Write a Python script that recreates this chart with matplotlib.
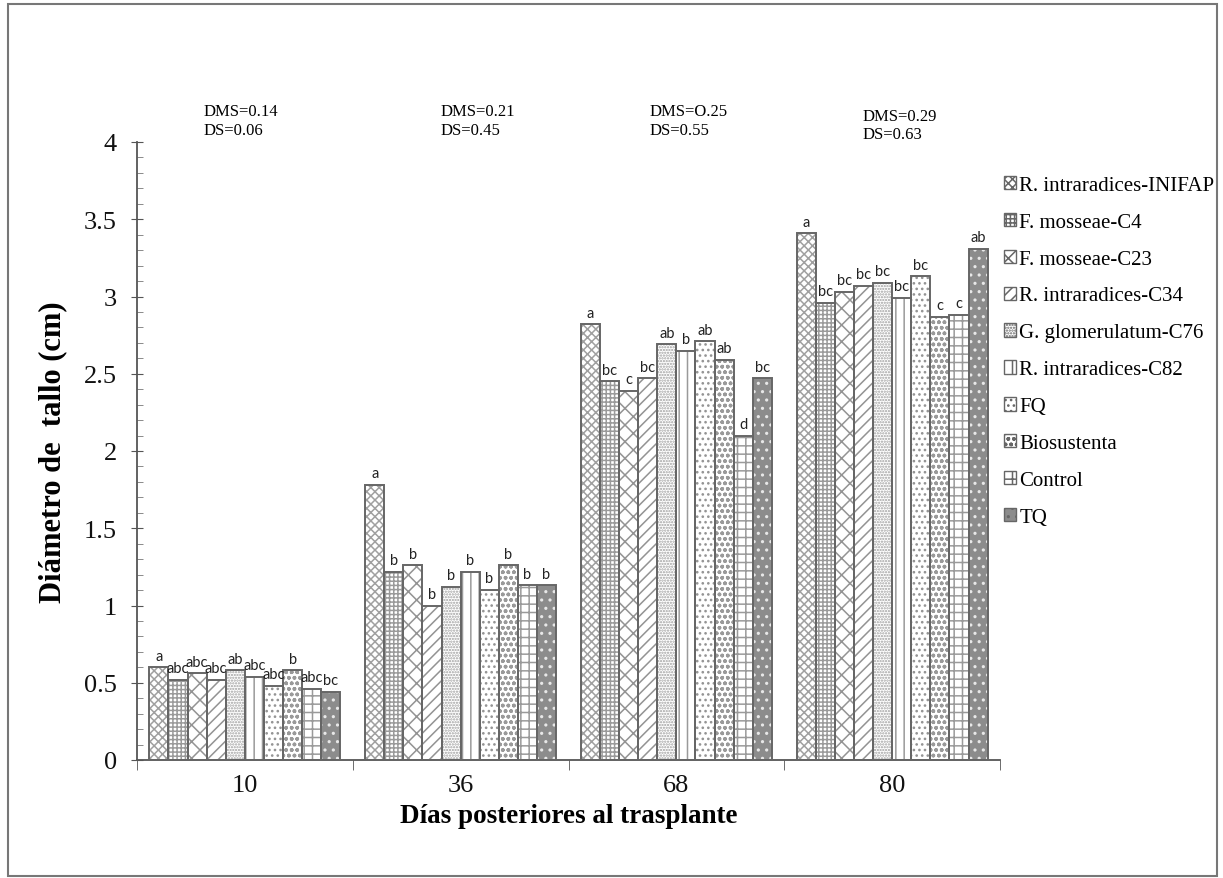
import matplotlib
matplotlib.use("Agg")
import matplotlib.pyplot as plt
import numpy as np
from matplotlib.patches import Patch, Rectangle
from matplotlib.ticker import MultipleLocator

days = ["10", "36", "68", "80"]
treatments = ["R. intraradices-INIFAP", "F. mosseae-C4", "F. mosseae-C23",
              "R. intraradices-C34", "G. glomerulatum-C76", "R. intraradices-C82",
              "FQ", "Biosustenta", "Control", "TQ"]

# values per treatment (rows) x day (columns)
inifap = [0.60, 1.78, 2.82, 3.41]
c4 = [0.52, 1.22, 2.45, 2.96]
c23 = [0.56, 1.26, 2.39, 3.03]
c34 = [0.52, 1.00, 2.47, 3.07]
c76 = [0.58, 1.12, 2.69, 3.09]
c82 = [0.54, 1.22, 2.65, 2.99]
fq = [0.48, 1.10, 2.71, 3.13]
bios = [0.58, 1.26, 2.59, 2.87]
control = [0.46, 1.13, 2.10, 2.88]
tq = [0.44, 1.13, 2.47, 3.31]
series = [inifap, c4, c23, c34, c76, c82, fq, bios, control, tq]

letters_10 = ["a", "abc", "abc", "abc", "ab", "abc", "abc", "b", "abc", "bc"]
letters_36 = ["a", "b", "b", "b", "b", "b", "b", "b", "b", "b"]
letters_68 = ["a", "bc", "c", "bc", "ab", "b", "ab", "ab", "d", "bc"]
letters_80 = ["a", "bc", "bc", "bc", "bc", "bc", "bc", "c", "c", "ab"]
letters = [letters_10, letters_36, letters_68, letters_80]

dms = ["DMS=0.14", "DMS=0.21", "DMS=O.25", "DMS=0.29"]
ds = ["DS=0.06", "DS=0.45", "DS=0.55", "DS=0.63"]

hatches = ["xxxx", "++++", "xx", "///", "......", "||", "...", "ooo", "++", ".."]
faces = ["white"] * 9 + ["#8c8c8c"]
hatch_cols = ["#a0a0a0", "#9a9a9a", "#939393", "#939393", "#a0a0a0",
              "#9a9a9a", "#939393", "#9a9a9a", "#9a9a9a", "#e8e8e8"]
outline = "#666666"

plt.rcParams["hatch.linewidth"] = 1.1
serif = ["Liberation Serif", "DejaVu Serif"]

fig = plt.figure(figsize=(12.23, 8.79), dpi=100)
ax = fig.add_axes([137 / 1223, 1 - 761 / 879, (1000 - 137) / 1223, (761 - 143) / 879])

x = np.arange(len(days))
n = len(series)
w = 0.0885
offsets = (np.arange(n) - (n - 1) / 2) * w

for i, vals in enumerate(series):
    ax.bar(x + offsets[i], vals, w, color=faces[i], edgecolor=hatch_cols[i],
           hatch=hatches[i], linewidth=0, zorder=2)
    ax.bar(x + offsets[i], vals, w, fill=False, edgecolor=outline,
           linewidth=1.4, zorder=3)
    for j, v in enumerate(vals):
        ax.text(x[j] + offsets[i], v + 0.03, letters[j][i], ha="center",
                va="bottom", fontsize=10.5, family="Lato", color="#222222", zorder=4)

ax.set_xlim(-0.5, 3.5)
ax.set_ylim(0, 4)
ax.yaxis.set_major_locator(MultipleLocator(0.5))
ax.yaxis.set_minor_locator(MultipleLocator(0.1))
ax.set_yticks(np.arange(0, 4.01, 0.5))
ax.set_yticklabels(["0", "0.5", "1", "1.5", "2", "2.5", "3", "3.5", "4"])
ax.set_xticks(x)
ax.set_xticklabels(days)
ax.set_xticks(np.arange(-0.5, 3.51, 1), minor=True)
ax.tick_params(axis="x", which="major", length=0, pad=10)
ax.tick_params(axis="x", which="minor", length=7, direction="out", color="#555555")
ax.tick_params(axis="y", which="major", length=9, direction="inout", pad=10, color="#555555")
ax.tick_params(axis="y", which="minor", length=4, direction="in", color="#777777")
for lab in ax.get_xticklabels() + ax.get_yticklabels():
    lab.set_fontfamily(serif)
    lab.set_fontsize(19)
    lab.set_color("#111111")

for s in ["top", "right"]:
    ax.spines[s].set_visible(False)
for s in ["left", "bottom"]:
    ax.spines[s].set_color("#555555")
    ax.spines[s].set_linewidth(1.3)

ax.set_ylabel("Diámetro de  tallo (cm)", fontsize=22, fontweight="bold",
              family=serif, labelpad=12)
ax.set_xlabel("Días posteriores al trasplante", fontsize=19.5, fontweight="bold",
              family=serif, labelpad=5)

dx = [-0.19, -0.093, -0.124, -0.137]
dy = [0, 0, 0, -0.03]
for j in range(len(days)):
    ax.text(x[j] + dx[j], 4.14 + dy[j], dms[j] + "\n" + ds[j], ha="left", va="center",
            fontsize=12, family=serif, linespacing=1.2, clip_on=False)

handles = [Patch(facecolor=faces[i], edgecolor=outline, hatch=hatches[i], linewidth=1)
           for i in range(n)]
leg = fig.legend(handles, treatments, loc="upper left",
                 bbox_to_anchor=(985 / 1223, 1 - 158 / 879), frameon=False,
                 prop={"family": serif, "size": 15}, handlelength=0.6,
                 handleheight=0.6, handletextpad=0.15, labelspacing=0.86)

fig.add_artist(Rectangle((8 / 1223, 2 / 879), 1209 / 1223, 872 / 879,
                         transform=fig.transFigure, fill=False,
                         edgecolor="#777777", linewidth=1.5))

fig.savefig("out.png", dpi=100)
